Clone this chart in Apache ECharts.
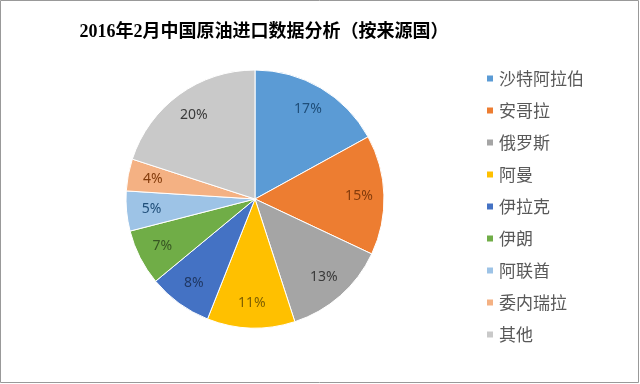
<!DOCTYPE html>
<html><head><meta charset="utf-8">
<script src="https://cdn.jsdelivr.net/npm/echarts@6/dist/echarts.min.js"></script>
<style>html,body{margin:0;padding:0;background:#fff}#c{width:640px;height:384px}</style>
</head><body><div id="c"></div>
<script>
const categories = ['沙特阿拉伯','安哥拉','俄罗斯','阿曼','伊拉克','伊朗','阿联酋','委内瑞拉','其他'];
const shares = [17,15,13,11,8,7,5,4,20];
const colors = ['#5B9BD5','#ED7D31','#A5A5A5','#FFC000','#4472C4','#70AD47','#9DC3E6','#F4B183','#C9C9C9'];
const labelColors = ['#1F4E79','#843C0C','#3A3A3A','#7F6000','#203864','#375623','#1F4E79','#843C0C','#3A3A3A'];

const chart = echarts.init(document.getElementById('c'));
const data = categories.map((n,i)=>({name:n,value:shares[i],itemStyle:{color:colors[i]}}));
const labelData = categories.map((n,i)=>({name:n,value:shares[i],label:{color:labelColors[i]}}));
chart.setOption({
  animation:false,
  title:{text:'2016年2月中国原油进口数据分析（按来源国）',left:259,textAlign:'center',top:18,
    textStyle:{fontFamily:'Liberation Serif, Noto Sans CJK SC',fontSize:18,fontWeight:'bold',color:'#000'}},
  legend:{orient:'vertical',left:485,top:70,padding:0,icon:'rect',itemWidth:8,itemHeight:8,itemGap:15,itemTextGap:7,
    data:categories,
    textStyle:{fontFamily:'Noto Sans CJK SC',fontSize:17,color:'#595959',lineHeight:17}},
  graphic:[{type:'rect',shape:{x:0.5,y:0.5,width:638,height:382},style:{fill:'none',stroke:'#999',lineWidth:1},silent:true}],
  series:[
    {type:'pie',center:[255,199],radius:[0,129],startAngle:90,clockwise:true,
     label:{show:false},labelLine:{show:false},
     itemStyle:{borderColor:'#fff',borderWidth:1},data:data},
    {type:'pie',center:[255,199],radius:[73,129],startAngle:90,clockwise:true,silent:true,
     legendHoverLink:false,
     itemStyle:{color:'rgba(0,0,0,0)'},
     label:{show:true,position:'inside',formatter:'{c}%',fontFamily:'Noto Sans',fontSize:14},
     labelLine:{show:false},data:labelData}
  ]
});
</script></body></html>
